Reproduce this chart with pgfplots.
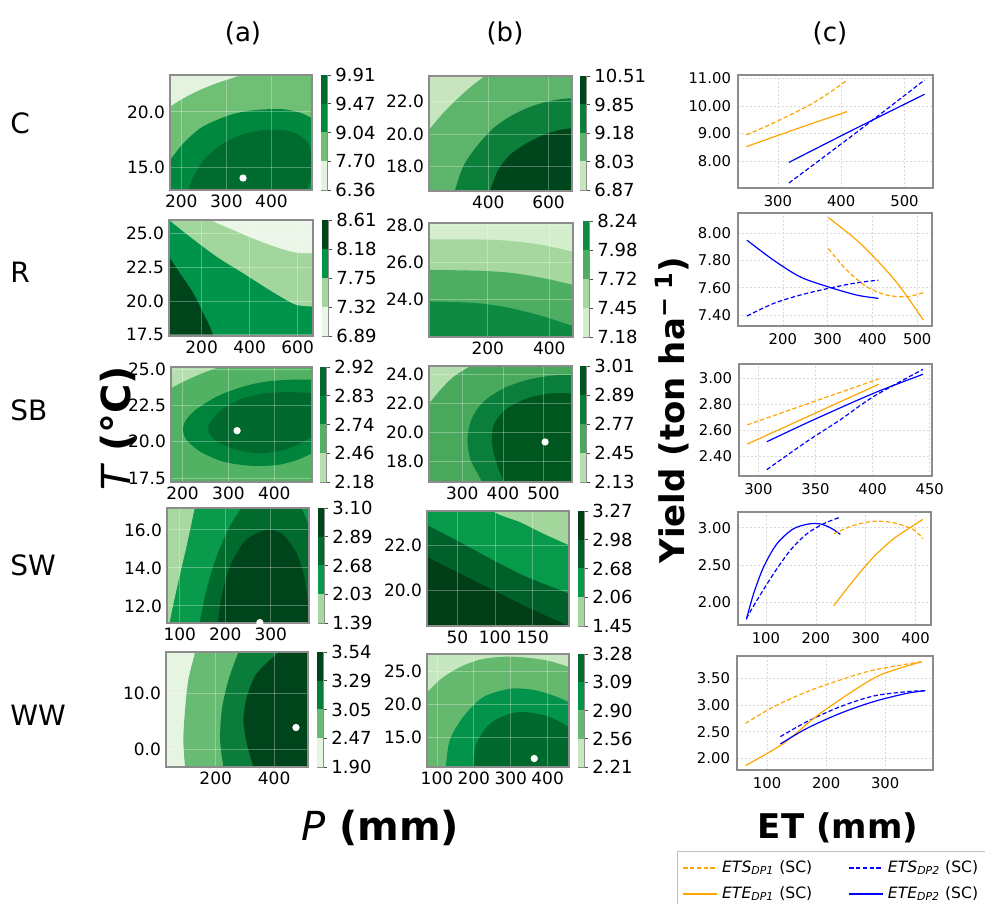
\documentclass[border=0pt]{standalone}
\usepackage{fontspec}
\setmainfont{DejaVu Sans}
\usepackage{pgfplots}
\pgfplotsset{compat=1.18}

\definecolor{Ca1}{HTML}{E4F3DF}\definecolor{Ca2}{HTML}{6FC074}\definecolor{Ca3}{HTML}{00883F}\definecolor{Ca4}{HTML}{006B2F}
\definecolor{Cb1}{HTML}{C7E6C0}\definecolor{Cb2}{HTML}{5CB56A}\definecolor{Cb3}{HTML}{0C7F3B}\definecolor{Cb4}{HTML}{00461C}
\definecolor{Ra1}{HTML}{EBF5E8}\definecolor{Ra2}{HTML}{A2D69C}\definecolor{Ra3}{HTML}{00944A}\definecolor{Ra4}{HTML}{00441B}
\definecolor{Rb1}{HTML}{D3EDCD}\definecolor{Rb2}{HTML}{A5D79E}\definecolor{Rb3}{HTML}{4DAE61}\definecolor{Rb4}{HTML}{0F8A42}
\definecolor{SBa1}{HTML}{B5DFAE}\definecolor{SBa2}{HTML}{52B264}\definecolor{SBa3}{HTML}{00843B}\definecolor{SBa4}{HTML}{006A2E}
\definecolor{SBb1}{HTML}{B5DFAE}\definecolor{SBb2}{HTML}{48A95D}\definecolor{SBb3}{HTML}{0A7F3C}\definecolor{SBb4}{HTML}{00561F}
\definecolor{SWa1}{HTML}{A6D8A0}\definecolor{SWa2}{HTML}{0A9A4B}\definecolor{SWa3}{HTML}{006B2D}\definecolor{SWa4}{HTML}{00441B}
\definecolor{SWb1}{HTML}{A2D69B}\definecolor{SWb2}{HTML}{079A4B}\definecolor{SWb3}{HTML}{00602A}\definecolor{SWb4}{HTML}{003E18}
\definecolor{WWa1}{HTML}{E6F4E2}\definecolor{WWa2}{HTML}{67BB73}\definecolor{WWa3}{HTML}{0A7D3A}\definecolor{WWa4}{HTML}{00441B}
\definecolor{WWb1}{HTML}{C6E7BF}\definecolor{WWb2}{HTML}{65B96F}\definecolor{WWb3}{HTML}{03934A}\definecolor{WWb4}{HTML}{006A2E}
\definecolor{lorange}{HTML}{FFA500}
\definecolor{lblue}{HTML}{0000FF}
\definecolor{axframe}{HTML}{8C8C8C}

\pgfplotsset{
  base/.style={scale only axis, anchor=south west, enlargelimits=false, clip=true,
    axis line style={draw=axframe, line width=0.55pt},
    /pgf/number format/assume math mode=true},
  cax/.style={base, axis on top, grid=major,
    axis line style={draw=axframe, line width=0.75pt},
    major grid style={draw=white, opacity=0.3, line width=0.4pt},
    tick style={draw=none},
    tick label style={font=\fontsize{8.5}{9}\selectfont},
    xticklabel style={yshift=1pt},
    yticklabel style={xshift=1pt, /pgf/number format/.cd, fixed, fixed zerofill, precision=1}},
  cb/.style={base, xmin=0, xmax=1, ymin=0, ymax=4, xtick=\empty, ytick={0,1,2,3,4},
    axis line style={draw=axframe, line width=0.45pt},
    ytick pos=right, yticklabel pos=right, tick align=outside,
    major tick length=2.2pt, tick style={draw=black!70, line width=0.4pt},
    yticklabel style={font=\fontsize{9}{10}\selectfont, xshift=-1.5pt}},
  lax/.style={base, grid=major,
    major grid style={dash pattern=on 1pt off 1pt, draw=black!15, line width=0.3pt},
    tick style={draw=none},
    tick label style={font=\fontsize{7.4}{8}\selectfont},
    yticklabel style={/pgf/number format/.cd, fixed, fixed zerofill, precision=2}},
  fl/.style={draw=none, fill=#1, smooth, tension=0.5},
  dot/.style={only marks, mark=*, mark size=1.6pt, draw=white, fill=white},
  os/.style={draw=lorange, line width=0.6pt, smooth, no marks},
  od/.style={draw=lorange, line width=0.6pt, smooth, no marks, dash pattern=on 2.2pt off 1.2pt},
  bs/.style={draw=lblue, line width=0.6pt, smooth, no marks},
  bd/.style={draw=lblue, line width=0.6pt, smooth, no marks, dash pattern=on 2.2pt off 1.2pt},
}

\newcommand{\cbar}[8]{%
\begin{axis}[cb, at={(#1pt,#2pt)}, width=3pt, height=#3pt, yticklabels={#8}]
\addplot[draw=none, fill=#4] coordinates {(0,0) (1,0) (1,1) (0,1)};
\addplot[draw=none, fill=#5] coordinates {(0,1) (1,1) (1,2) (0,2)};
\addplot[draw=none, fill=#6] coordinates {(0,2) (1,2) (1,3) (0,3)};
\addplot[draw=none, fill=#7] coordinates {(0,3) (1,3) (1,4) (0,4)};
\end{axis}}

\begin{document}
\begin{tikzpicture}
\useasboundingbox (0pt,0pt) rectangle (492.5pt,452pt);

% ================= Row C =================
\begin{axis}[cax, at={(85pt,357pt)}, width=71pt, height=57.5pt,
  xmin=175, xmax=490, ymin=13, ymax=23.3, xtick={200,300,400}, ytick={15,20}]
\addplot[draw=none, fill=Ca1] coordinates {(140,11) (525,11) (525,25.5) (140,25.5)};
\addplot[fl=Ca2] coordinates {(140,19.57) (175,20.46) (204.6,21.21) (241.6,21.96) (278.7,22.56) (334.2,23.3) (370,23.8) (525,25.5) (525,11) (140,11)};
\addplot[fl=Ca3] coordinates {(140,13.9) (175,15.68) (204.6,17.18) (241.6,18.52) (278.7,19.27) (315.6,19.81) (352.6,20.10) (389.7,20.23) (426.6,20.23) (463.6,19.92) (490,19.42) (525,18.6) (525,11) (140,11)};
\addplot[fl=Ca4] coordinates {(205,11.6) (215.6,13) (230.5,14.49) (256.5,15.98) (293.3,17.18) (337.7,18.01) (382.1,18.37) (426.5,18.37) (456.3,18.01) (478.5,17.32) (492,16.1) (495,14.9) (485,13.6) (470,12.4) (460,11.4)};
\addplot[dot] coordinates {(337,14.07)};
\end{axis}
\cbar{160.5}{357}{57.5}{Ca1}{Ca2}{Ca3}{Ca4}{6.36,7.70,9.04,9.47,9.91}

\begin{axis}[cax, at={(214.5pt,356.5pt)}, width=71.5pt, height=57.5pt,
  xmin=203, xmax=678, ymin=16.5, ymax=23.58, xtick={400,600}, ytick={18,20,22}]
\addplot[draw=none, fill=Cb1] coordinates {(170,15.5) (710,15.5) (710,24.6) (170,24.6)};
\addplot[fl=Cb2] coordinates {(180,19.75) (203,20.26) (249.7,21.29) (305.2,22.31) (349.5,23.03) (388.5,23.58) (410,24.0) (710,24.6) (710,15.5) (170,15.5) (170,19.5)};
\addplot[fl=Cb3] coordinates {(270,15.5) (288.6,16.5) (316.2,18.0) (360.9,19.23) (416.1,20.36) (471.7,21.08) (527.3,21.59) (582.9,21.94) (638.2,22.15) (678,22.21) (710,22.25) (710,15.5)};
\addplot[fl=Cb4] coordinates {(384,15.5) (405.1,16.5) (432.8,17.80) (471.7,18.72) (527.3,19.44) (582.9,19.95) (638.2,20.26) (678,20.36) (710,20.4) (710,15.5)};
\end{axis}
\cbar{290}{357}{57}{Cb1}{Cb2}{Cb3}{Cb4}{6.87,8.03,9.18,9.85,10.51}

\begin{axis}[lax, at={(369pt,358pt)}, width=97.5pt, height=56.5pt,
  xmin=237, xmax=545, ymin=7.02, ymax=11.12, xtick={300,400,500}, ytick={8,9,10,11}]
\addplot[od] coordinates {(250.2,8.95) (292.3,9.37) (344.9,9.97) (376.5,10.40) (408,10.91)};
\addplot[os] coordinates {(250.2,8.52) (330,9.17) (409,9.79)};
\addplot[bs] coordinates {(317.5,7.95) (423.8,9.19) (531.7,10.42)};
\addplot[bd] coordinates {(317.5,7.20) (423.8,9.03) (531.7,10.94)};
\end{axis}

% ================= Row R =================
\begin{axis}[cax, at={(84.5pt,284pt)}, width=72pt, height=58pt,
  xmin=64, xmax=664, ymin=17.4, ymax=26, xtick={200,400,600}, ytick={17.5,20,22.5,25}]
\addplot[draw=none, fill=Ra3] coordinates {(20,16.5) (700,16.5) (700,27) (20,27)};
\addplot[fl=Ra2] coordinates {(20,27) (40,26.34) (64,26) (151.5,24.76) (262.8,23.28) (373.6,22.05) (471.1,20.94) (540.3,20.20) (596.1,19.70) (664,19.58) (700,19.55) (700,27)};
\addplot[fl=Ra1] coordinates {(215,27) (241.9,26) (332,25.26) (429.4,24.52) (526.5,23.90) (596,23.58) (664,23.53) (700,23.52) (700,27)};
\addplot[fl=Ra4] coordinates {(20,24.4) (64,23.28) (109.8,22.05) (165.3,20.57) (207,19.09) (234.8,18.09) (248.6,17.4) (266,16.5) (20,16.5)};
\end{axis}
\cbar{161}{284}{58}{Ra1}{Ra2}{Ra3}{Ra4}{6.89,7.32,7.75,8.18,8.61}

\begin{axis}[cax, at={(214.5pt,283.5pt)}, width=72pt, height=57pt,
  xmin=9, xmax=477, ymin=22.0, ymax=28.12, xtick={200,400}, ytick={24,26,28}]
\addplot[draw=none, fill=Rb1] coordinates {(-20,21) (500,21) (500,29) (-20,29)};
\addplot[fl=Rb2] coordinates {(-20,27.24) (9,27.24) (163,27.24) (271.3,27.16) (379.5,26.93) (477,26.57) (500,26.45) (500,21) (-20,21)};
\addplot[fl=Rb3] coordinates {(-20,25.60) (9,25.60) (163,25.56) (271.3,25.45) (379.5,25.16) (477,24.80) (500,24.7) (500,21) (-20,21)};
\addplot[fl=Rb4] coordinates {(-20,23.91) (9,23.91) (163,23.82) (271.3,23.56) (379.5,23.11) (477,22.58) (500,22.42) (500,21) (-20,21)};
\end{axis}
\cbar{291.5}{283.5}{58}{Rb1}{Rb2}{Rb3}{Rb4}{7.18,7.45,7.72,7.98,8.24}

\begin{axis}[lax, at={(369pt,289pt)}, width=97pt, height=56.5pt,
  xmin=100, xmax=533, ymin=7.32, ymax=8.146, xtick={200,300,400,500}, ytick={7.4,7.6,7.8,8.0}]
\addplot[bs] coordinates {(120,7.947) (179.4,7.801) (238.8,7.679) (300.4,7.607) (365,7.546) (413.3,7.522)};
\addplot[bd] coordinates {(120,7.393) (179.4,7.485) (238.8,7.546) (300.4,7.594) (365,7.636) (413.3,7.655)};
\addplot[os] coordinates {(301.9,8.112) (365,7.947) (417,7.777) (461.6,7.607) (513.5,7.364)};
\addplot[od] coordinates {(301.9,7.886) (342.8,7.728) (387.3,7.607) (431.8,7.546) (476.4,7.534) (513.5,7.563)};
\end{axis}

% ================= Row SB =================
\begin{axis}[cax, at={(85.5pt,211pt)}, width=70.5pt, height=57.5pt,
  xmin=175, xmax=482, ymin=17.22, ymax=25.15, xtick={200,300,400}, ytick={17.5,20,22.5,25}]
\addplot[draw=none, fill=SBa2] coordinates {(150,16) (510,16) (510,26.5) (150,26.5)};
\addplot[fl=SBa1] coordinates {(150,23.3) (175,23.70) (202.5,24.15) (238.9,24.67) (278.8,25.15) (305,25.5) (150,26.5)};
\addplot[fl=SBa3] coordinates {(510,24.27) (482,24.27) (435.1,24.27) (384.3,24.15) (333.3,23.81) (275.3,23.12) (224.3,22.08) (202.5,21.16) (206.2,20.24) (238.9,19.31) (289.7,18.62) (347.9,18.34) (406.1,18.39) (449.7,18.74) (482,19.20) (510,19.6)};
\addplot[fl=SBa4] coordinates {(510,23.3) (482,23.35) (435.1,23.42) (384.3,23.35) (333.3,23.0) (289.7,22.31) (260.7,21.39) (257,20.69) (275.3,20.0) (318.9,19.43) (369.7,19.20) (420.5,19.43) (456.9,19.89) (482,20.35) (510,20.8)};
\addplot[dot] coordinates {(318.9,20.76)};
\end{axis}
\cbar{160}{211}{57.5}{SBa1}{SBa2}{SBa3}{SBa4}{2.18,2.46,2.74,2.83,2.92}

\begin{axis}[cax, at={(214.5pt,211pt)}, width=71.5pt, height=58pt,
  xmin=218, xmax=570, ymin=16.57, ymax=24.57, xtick={300,400,500}, ytick={18,20,22,24}]
\addplot[draw=none, fill=SBb2] coordinates {(190,15.5) (600,15.5) (600,25.5) (190,25.5)};
\addplot[fl=SBb1] coordinates {(200,21.4) (218,21.99) (245.2,22.91) (278.1,23.83) (319.3,24.57) (340,25) (190,25.5)};
\addplot[fl=SBb3] coordinates {(600,23.95) (570,23.95) (516.9,23.90) (459.3,23.60) (401.5,23.03) (352.2,22.10) (323.4,20.95) (312.7,19.57) (319.3,18.18) (335.8,17.26) (348.2,16.57) (356,15.8) (600,15.5)};
\addplot[fl=SBb4] coordinates {(600,22.68) (570,22.68) (516.9,22.68) (459.3,22.33) (409.9,21.64) (381,20.72) (372.8,19.80) (376.8,18.64) (389.2,17.49) (401.5,16.57) (408,15.8) (600,15.5)};
\addplot[dot] coordinates {(503.8,19.33)};
\end{axis}
\cbar{290}{211}{58}{SBb1}{SBb2}{SBb3}{SBb4}{2.13,2.45,2.77,2.89,3.01}

\begin{axis}[lax, at={(369.5pt,214pt)}, width=96.5pt, height=56pt,
  xmin=283, xmax=452, ymin=2.25, ymax=3.11, xtick={300,350,400,450}, ytick={2.4,2.6,2.8,3.0}]
\addplot[od] coordinates {(290.3,2.643) (405.2,2.995)};
\addplot[os] coordinates {(290.3,2.495) (405.2,2.954)};
\addplot[bs] coordinates {(307.3,2.513) (348.2,2.681) (400.8,2.885) (444.1,3.031)};
\addplot[bd] coordinates {(307.3,2.298) (342.4,2.515) (371.6,2.681) (400.8,2.860) (444.1,3.069)};
\end{axis}

% ================= Row SW =================
\begin{axis}[cax, at={(83.5pt,140.5pt)}, width=71pt, height=57.5pt,
  xmin=72, xmax=384, ymin=11.1, ymax=17.15, xtick={100,200,300}, ytick={12,14,16}]
\addplot[draw=none, fill=SWa2] coordinates {(50,10) (410,10) (410,18.2) (50,18.2)};
\addplot[fl=SWa1] coordinates {(50,10) (76,10) (77.9,11.10) (92.7,12.83) (114.7,15.12) (132.9,17.15) (142,18.2) (50,18.2)};
\addplot[fl=SWa3] coordinates {(138,10) (143.9,11.10) (158.7,12.83) (180.7,14.59) (209.9,16.18) (235.7,17.15) (250,17.7) (360,17.7) (367.7,17.15) (378.7,16.53) (384,16.18) (410,15) (410,10)};
\addplot[fl=SWa4] coordinates {(180,10) (184.2,11.10) (191.7,12.47) (209.9,14.06) (239.2,15.30) (268.7,15.83) (297.9,16.0) (327.2,15.74) (356.7,14.77) (374.9,13.36) (382.2,11.94) (385,10.5) (390,10)};
\addplot[dot] coordinates {(276,11.12)};
\end{axis}
\cbar{159}{140.5}{57.5}{SWa1}{SWa2}{SWa3}{SWa4}{1.39,2.03,2.68,2.89,3.10}

\begin{axis}[cax, at={(213.5pt,139pt)}, width=71pt, height=57.5pt,
  xmin=9.5, xmax=198.4, ymin=18.41, ymax=23.52, xtick={50,100,150}, ytick={20,22}]
\addplot[draw=none, fill=SWb2] coordinates {(-10,17.5) (215,17.5) (215,24.5) (-10,24.5)};
\addplot[fl=SWb1] coordinates {(85,24.5) (97.5,23.52) (133.1,23.03) (164.1,22.52) (198.4,22.0) (215,21.75) (215,24.5)};
\addplot[fl=SWb3] coordinates {(-10,23.2) (9.5,22.89) (53.1,22.14) (97.5,21.33) (142.0,20.59) (198.4,19.85) (215,19.65) (215,17.5) (-10,17.5)};
\addplot[fl=SWb4] coordinates {(-10,21.85) (9.5,21.48) (53.1,20.74) (97.5,20.0) (142.0,19.26) (186.4,18.59) (198.4,18.41) (215,18.1) (215,17.5) (-10,17.5)};
\end{axis}
\cbar{289}{139}{57.5}{SWb1}{SWb2}{SWb3}{SWb4}{1.45,2.06,2.68,2.98,3.27}

\begin{axis}[lax, at={(369pt,139.5pt)}, width=96.5pt, height=56.5pt,
  xmin=44, xmax=431, ymin=1.70, ymax=3.21, xtick={100,200,300,400}, ytick={2,2.5,3}]
\addplot[bs] coordinates {(60.7,1.774) (75.4,2.120) (95.4,2.476) (122.2,2.787) (155.6,2.987) (189,3.053) (212.4,3.045) (232.4,2.987) (249.1,2.911)};
\addplot[bd] coordinates {(60.7,1.787) (82.1,2.031) (115.5,2.387) (148.9,2.698) (182.3,2.920) (215.7,3.053) (249.1,3.142)};
\addplot[os] coordinates {(235.7,1.956) (275.8,2.298) (315.9,2.609) (356,2.853) (396,3.031) (414.7,3.111)};
\addplot[od] coordinates {(235.7,2.920) (275.8,3.031) (315.9,3.085) (356,3.067) (396,2.973) (414.7,2.853)};
\end{axis}

% ================= Row WW =================
\begin{axis}[cax, at={(83pt,68.5pt)}, width=71pt, height=57.5pt,
  xmin=30, xmax=516, ymin=-3.1, ymax=17.3, xtick={200,400}, ytick={0,10}]
\addplot[draw=none, fill=WWa1] coordinates {(0,-5) (545,-5) (545,19.5) (0,19.5)};
\addplot[fl=WWa2] coordinates {(135,19.5) (129.5,17.3) (106.5,12.35) (95.2,7.0) (89.4,1.64) (95.2,-3.1) (99,-5) (545,-5) (545,19.5)};
\addplot[fl=WWa3] coordinates {(290,19.5) (278,17.3) (243.7,12.35) (221.1,7.0) (215.2,1.64) (226.5,-3.1) (232,-5) (545,-5) (545,19.5)};
\addplot[fl=WWa4] coordinates {(445,19.5) (415.2,17.3) (341.1,13.55) (306.8,9.37) (295.1,5.21) (306.8,1.05) (329.5,-3.1) (345,-5) (545,-5) (545,19.5)};
\addplot[dot] coordinates {(474.9,3.9)};
\end{axis}
\cbar{158.5}{68.5}{57.5}{WWa1}{WWa2}{WWa3}{WWa4}{1.90,2.47,3.05,3.29,3.54}

\begin{axis}[cax, at={(213.5pt,68.5pt)}, width=71pt, height=56.5pt,
  xmin=73, xmax=458, ymin=10.4, ymax=27.7, xtick={100,200,300,400}, ytick={15,20,25}]
\addplot[draw=none, fill=WWb1] coordinates {(50,9) (480,9) (480,29) (50,29)};
\addplot[fl=WWb2] coordinates {(50,20.6) (73,21.85) (116.5,24.13) (170.8,25.92) (225.2,26.94) (288.7,27.29) (352,27.09) (406.4,26.6) (458,25.7) (480,25.2) (480,9) (50,9)};
\addplot[fl=WWb3] coordinates {(120,9) (123.8,10.4) (134.7,14.49) (170.8,18.04) (225.2,21.09) (297.7,22.37) (361,22.21) (415.3,21.34) (458,20.32) (480,19.6) (480,9)};
\addplot[fl=WWb4] coordinates {(195,9) (198,10.4) (207.2,13.98) (243.4,17.03) (297.7,18.55) (343.1,18.80) (406.4,18.04) (458,16.51) (480,15.6) (480,9)};
\addplot[dot] coordinates {(363.7,11.7)};
\end{axis}
\cbar{289}{68.5}{56.5}{WWb1}{WWb2}{WWb3}{WWb4}{2.21,2.56,2.90,3.09,3.28}

\begin{axis}[lax, at={(368.5pt,67pt)}, width=98pt, height=57pt,
  xmin=49, xmax=381, ymin=1.78, ymax=3.92, xtick={100,200,300}, ytick={2,2.5,3,3.5},
  legend columns=2, legend cell align=left,
  legend image code/.code={\draw[#1, line width=0.85pt] (0pt,0pt) -- (17pt,0pt);},
  legend style={at={(-0.306,-0.712)}, anchor=north west, draw=gray!50,
    font=\fontsize{7.8}{9}\selectfont, inner sep=2.5pt, row sep=1.5pt,
    /tikz/every even column/.append style={column sep=16pt}}]
\addplot[od] coordinates {(63.4,2.656) (111.3,2.969) (167.6,3.25) (223.9,3.469) (280.3,3.656) (362,3.813)};
\addlegendentry{\textit{ETS}\textsubscript{\textit{DP1}} (SC)}
\addplot[bd] coordinates {(122.5,2.406) (167.6,2.688) (223.9,2.969) (280.3,3.169) (336.6,3.25) (367.6,3.269)};
\addlegendentry{\textit{ETS}\textsubscript{\textit{DP2}} (SC)}
\addplot[os] coordinates {(63.4,1.863) (128.2,2.281) (178.9,2.75) (235.2,3.188) (291.6,3.563) (362,3.813)};
\addlegendentry{\textit{ETE}\textsubscript{\textit{DP1}} (SC)}
\addplot[bs] coordinates {(122.5,2.269) (167.6,2.563) (223.9,2.844) (280.3,3.063) (336.6,3.219) (367.6,3.269)};
\addlegendentry{\textit{ETE}\textsubscript{\textit{DP2}} (SC)}
\end{axis}

% ================= Labels =================
\node[font=\fontsize{13}{15}\selectfont] at (121.5pt,435.5pt) {(a)};
\node[font=\fontsize{13}{15}\selectfont] at (252.5pt,435.5pt) {(b)};
\node[font=\fontsize{13}{15}\selectfont] at (415pt,435.5pt) {(c)};
\node[font=\fontsize{14}{16}\selectfont, anchor=west, inner sep=0pt] at (5pt,390.5pt) {C};
\node[font=\fontsize{14}{16}\selectfont, anchor=west, inner sep=0pt] at (5pt,316pt) {R};
\node[font=\fontsize{14}{16}\selectfont, anchor=west, inner sep=0pt] at (5pt,247pt) {SB};
\node[font=\fontsize{14}{16}\selectfont, anchor=west, inner sep=0pt] at (5pt,169.5pt) {SW};
\node[font=\fontsize{14}{16}\selectfont, anchor=west, inner sep=0pt] at (5pt,94.5pt) {WW};
\node[rotate=90, font=\fontsize{20}{24}\selectfont\bfseries] at (59pt,238pt) {{\mdseries\itshape T} (°C)};
\node[font=\fontsize{20}{24}\selectfont\bfseries] at (190pt,38pt) {{\mdseries\itshape P} (mm)};
\node[rotate=90, font=\fontsize{17}{20}\selectfont\bfseries] at (336pt,247pt) {Yield (ton ha\textsuperscript{− 1})};
\node[font=\fontsize{17}{20}\selectfont\bfseries] at (419pt,38pt) {ET (mm)};
\end{tikzpicture}
\end{document}
